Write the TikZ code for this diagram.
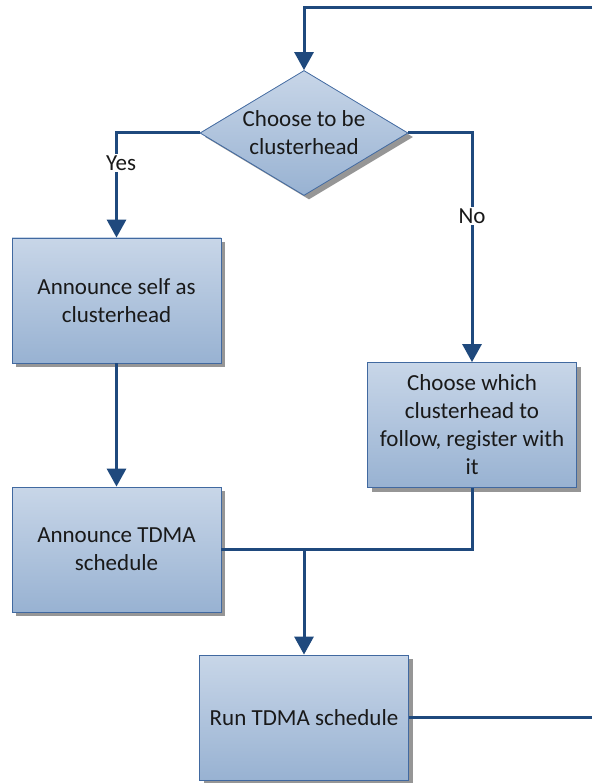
\documentclass[tikz,border=0pt]{standalone}
\usepackage{fontspec}
\setmainfont{Carlito}
\usetikzlibrary{shapes.geometric,arrows.meta,shadows}
\definecolor{flowline}{RGB}{31,73,125}
\definecolor{boxedge}{RGB}{65,105,160}
\definecolor{boxtop}{RGB}{200,214,232}
\definecolor{boxbot}{RGB}{152,178,210}
\definecolor{shadowgray}{RGB}{150,150,150}
\tikzset{
  procbox/.style={rectangle, draw=boxedge, line width=0.8pt,
    top color=boxtop, bottom color=boxbot,
    minimum width=209pt, minimum height=125pt, inner sep=0pt,
    align=center, font=\fontsize{23}{28}\selectfont, text=black!90,
    drop shadow={shadow xshift=4pt, shadow yshift=-4pt, opacity=1, fill=shadowgray}},
  decision/.style={diamond, draw=boxedge, line width=0.8pt,
    top color=boxtop, bottom color=boxbot,
    minimum width=208pt, minimum height=125pt, inner sep=0pt, aspect=1.66,
    align=center, font=\fontsize{23}{28}\selectfont, text=black!90,
    drop shadow={shadow xshift=5pt, shadow yshift=-4pt, opacity=1, fill=shadowgray}},
  flow/.style={draw=flowline, line width=3pt},
  flowarrow/.style={flow, -{Triangle[width=19pt,length=18pt]}},
  branchlabel/.style={fill=white, inner sep=2pt, font=\fontsize{23}{26}\selectfont, text=black!90}
}
\begin{document}
\begin{tikzpicture}[x=1pt,y=-1pt]
  \useasboundingbox (0,0) rectangle (592,783);

  % decision and process steps
  \node[decision] (choose) at (304,133) {Choose to be\\clusterhead};
  \node[procbox] (announce) at (116.5,300.5) {Announce self as\\clusterhead};
  \node[procbox] (tdma) at (116.5,549.5) {Announce TDMA\\schedule};
  \node[procbox] (follow) at (472,425) {Choose which\\clusterhead to\\follow, register with\\it};
  \node[procbox] (run) at (304,717.5) {Run TDMA schedule};

  % ends of the loop back to the decision
  \coordinate (loopout) at (592,717.5);
  \coordinate (loopin) at (592,8);

  % yes / no branches
  \draw[flowarrow] (choose.west) -| (announce.north);
  \draw[flowarrow] (choose.east) -| (follow.north);
  \node[branchlabel] (yes) at (121,163) {Yes};
  \node[branchlabel] (no) at (472,216) {No};

  % clusterhead path
  \draw[flowarrow] (announce.south) -- (tdma.north);

  % both paths join before running the schedule
  \draw[flow] (follow.south) |- (tdma.east);
  \coordinate (join) at (run.north |- tdma.east);
  \draw[flowarrow] (join) -- (run.north);

  % loop back to the start
  \draw[flow] (run.east) -- (loopout);
  \draw[flowarrow] (loopin) -| (choose.north);
\end{tikzpicture}
\end{document}
